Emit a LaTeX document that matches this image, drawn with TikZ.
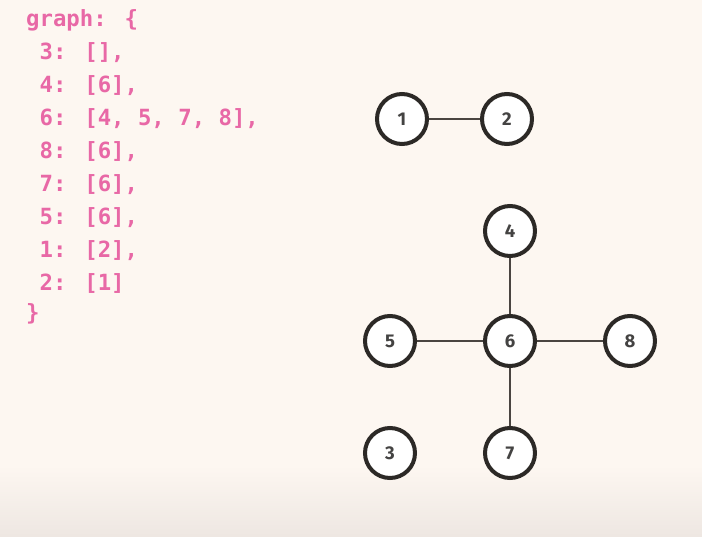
\documentclass[tikz,border=0pt]{standalone}
\usepackage{fontspec}
\setmainfont{Fira Sans}
\newfontfamily\codefont{DejaVu Sans Mono}
\begin{document}
\begin{tikzpicture}[x=1pt,y=-1pt,
  vertex/.style={circle,draw=nodeline,line width=4pt,fill=white,minimum size=50pt,inner sep=0pt,
                 font=\fontsize{18.5}{18.5}\selectfont\bfseries,text=nodetext},
  edge/.style={draw=edgeline,line width=2.6pt},
  codeline/.style={anchor=base west,inner sep=0pt,text=codepink,font=\codefont\fontsize{22.3}{22.3}\selectfont\bfseries}]
\definecolor{bgtop}{HTML}{FDF7F1}
\definecolor{bgbot}{HTML}{EEE7E2}
\definecolor{codepink}{HTML}{E868A6}
\definecolor{nodeline}{HTML}{2C2926}
\definecolor{edgeline}{HTML}{4A4541}
\definecolor{nodetext}{HTML}{444342}
% background with the soft fade at the bottom
\fill[bgtop] (0,0) rectangle (702,536);
\shade[top color=bgtop,bottom color=bgbot] (0,465) rectangle (702,536);
\useasboundingbox (0,0) rectangle (702,536);
% adjacency list
\node[codeline] (c0) at (26,26) {graph: \{};
\node[codeline] (c1) at (26,59) {\ 3: [],};
\node[codeline] (c2) at (26,92) {\ 4: [6],};
\node[codeline] (c3) at (26,125) {\ 6: [4, 5, 7, 8],};
\node[codeline] (c4) at (26,158) {\ 8: [6],};
\node[codeline] (c5) at (26,191) {\ 7: [6],};
\node[codeline] (c6) at (26,224) {\ 5: [6],};
\node[codeline] (c7) at (26,257) {\ 1: [2],};
\node[codeline] (c8) at (26,290) {\ 2: [1]};
\node[codeline] (c9) at (26,320) {\}};
% graph
\node[vertex] (n1) at (402,119) {1};
\node[vertex] (n2) at (507,119) {2};
\node[vertex] (n4) at (510,231) {4};
\node[vertex] (n5) at (390,341) {5};
\node[vertex] (n6) at (510,341) {6};
\node[vertex] (n8) at (630,341) {8};
\node[vertex] (n3) at (390,453) {3};
\node[vertex] (n7) at (510,453) {7};
\path[edge] (n1) -- (n2);
\path[edge] (n4) -- (n6);
\path[edge] (n5) -- (n6);
\path[edge] (n6) -- (n8);
\path[edge] (n6) -- (n7);
\end{tikzpicture}
\end{document}
